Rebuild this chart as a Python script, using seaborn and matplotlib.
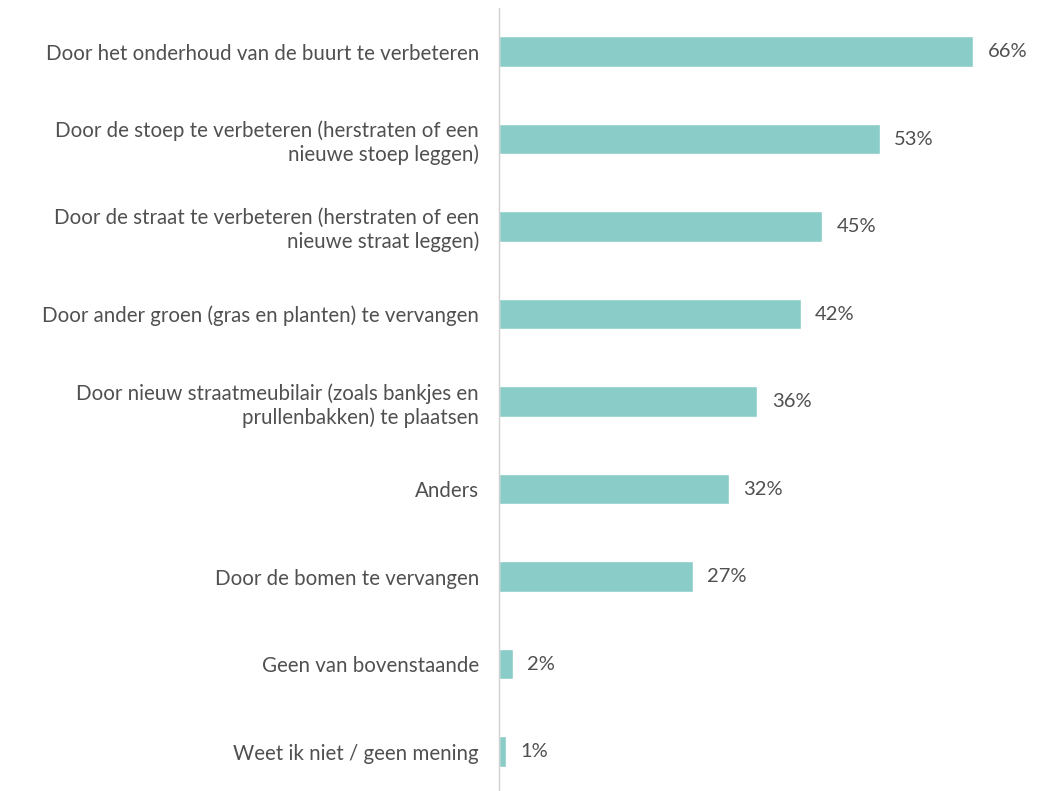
import matplotlib
matplotlib.use('Agg')
import matplotlib.pyplot as plt
import seaborn as sns
import pandas as pd

# data
categories = [
    'Door het onderhoud van de buurt te verbeteren',
    'Door de stoep te verbeteren (herstraten of een\nnieuwe stoep leggen)',
    'Door de straat te verbeteren (herstraten of een\nnieuwe straat leggen)',
    'Door ander groen (gras en planten) te vervangen',
    'Door nieuw straatmeubilair (zoals bankjes en\nprullenbakken) te plaatsen',
    'Anders',
    'Door de bomen te vervangen',
    'Geen van bovenstaande',
    'Weet ik niet / geen mening',
]
values = [66, 53, 45, 42, 36, 32, 27, 2, 1]

df = pd.DataFrame({'categorie': categories, 'pct': values})

BAR_COLOR = '#8ACCC8'
TEXT_COLOR = '#505050'

sns.set_theme(style='white')
plt.rcParams['font.family'] = ['Lato', 'DejaVu Sans']

fig = plt.figure(figsize=(10.43, 7.91), dpi=100)
ax = fig.add_axes([0.478, 0.0, 0.517, 0.99])

sns.barplot(data=df, x='pct', y='categorie', color=BAR_COLOR,
            width=0.35, saturation=1, ax=ax, orient='h')

for i, v in enumerate(values):
    ax.text(v + 2.0, i, f'{v}%', va='center', ha='left',
            fontsize=14.5, color=TEXT_COLOR)

ax.set_xlim(0, 75)
ax.set_ylim(8.45, -0.5)
ax.set_xlabel('')
ax.set_ylabel('')
ax.set_xticks([])
ax.tick_params(axis='y', length=0, pad=14, labelsize=14.8, labelcolor=TEXT_COLOR)
for lbl in ax.get_yticklabels():
    lbl.set_horizontalalignment('right')
    lbl.set_multialignment('right')

for s in ['top', 'right', 'bottom']:
    ax.spines[s].set_visible(False)
ax.spines['left'].set_color('#d0d0d0')
ax.spines['left'].set_linewidth(1.0)

plt.savefig('out.png', dpi=100, facecolor='white')
